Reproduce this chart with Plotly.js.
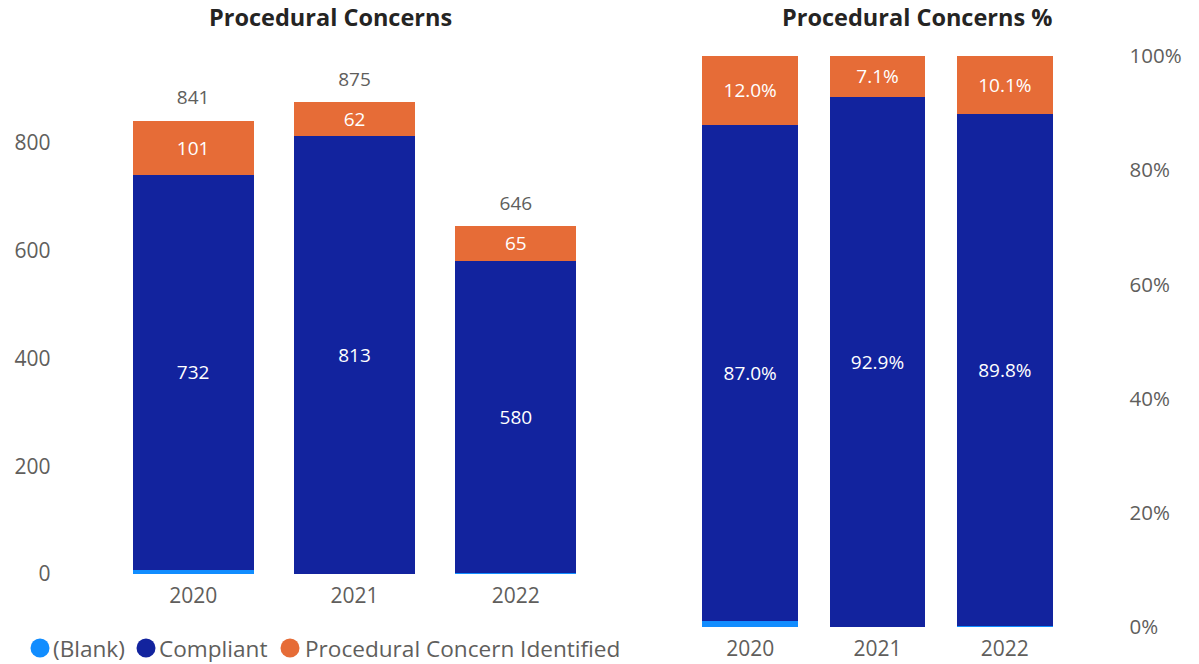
<!DOCTYPE html>
<html>
<head>
<meta charset="utf-8">
<script src="https://cdn.plot.ly/plotly-3.0.1.min.js"></script>
<style>html,body{margin:0;padding:0;background:#fff;} #chart{width:1199px;height:664px;}</style>
</head>
<body>
<div id="chart"></div>
<script>
// Data
const years = ['2020', '2021', '2022'];
const blankCount = [8, 0, 1];
const compliantCount = [732, 813, 580];
const concernCount = [101, 62, 65];
const totalCount = [841, 875, 646];
const blankPct = [1.0, 0, 0.1];
const compliantPct = [87.0, 92.9, 89.8];
const concernPct = [12.0, 7.1, 10.1];
const countTicks = [0, 200, 400, 600, 800];
const pctTicks = [0, 20, 40, 60, 80, 100];
const pctTickText = ['0%', '20%', '40%', '60%', '80%', '100%'];
const legendNames = ['(Blank)', 'Compliant', 'Procedural Concern Identified'];

const C_BLANK = '#118DFF', C_COMP = '#12239E', C_CONC = '#E66C37';
const legendColors = [C_BLANK, C_COMP, C_CONC];
const FONT = 'Open Sans, Noto Sans, sans-serif';
const GREY = '#605E5C';

function barTrace(x, y, color, name, xa, ya, labels) {
  const t = {
    type: 'bar', x: x, y: y, name: name, xaxis: xa, yaxis: ya,
    marker: {color: color, line: {width: 0}},
    showlegend: false, hoverinfo: 'skip'
  };
  if (labels) {
    t.text = labels;
    t.textposition = 'inside';
    t.insidetextanchor = 'middle';
    t.textangle = 0;
    t.textfont = {color: '#ffffff', size: 19, family: FONT};
  } else {
    t.textposition = 'none';
  }
  return t;
}

const data = [
  barTrace(years, blankCount, C_BLANK, legendNames[0], 'x', 'y', null),
  barTrace(years, compliantCount, C_COMP, legendNames[1], 'x', 'y', compliantCount.map(String)),
  barTrace(years, concernCount, C_CONC, legendNames[2], 'x', 'y', concernCount.map(String)),
  {
    type: 'scatter', mode: 'markers+text', x: years, y: totalCount, xaxis: 'x', yaxis: 'y',
    marker: {size: 17, color: 'rgba(0,0,0,0)'},
    text: totalCount.map(String), textposition: 'top center',
    textfont: {family: FONT, size: 19, color: GREY}, showlegend: false, hoverinfo: 'skip', cliponaxis: false
  },
  barTrace(years, blankPct, C_BLANK, legendNames[0], 'x2', 'y2', null),
  barTrace(years, compliantPct, C_COMP, legendNames[1], 'x2', 'y2', compliantPct.map(v => v.toFixed(1) + '%')),
  barTrace(years, concernPct, C_CONC, legendNames[2], 'x2', 'y2', concernPct.map(v => v.toFixed(1) + '%'))
];

const W = 1199, H = 664;
const annotations = [
  {
    xref: 'paper', yref: 'paper', x: 330 / W, y: 1 - 17 / H, xanchor: 'center', yanchor: 'middle',
    text: '<b>Procedural Concerns</b>', showarrow: false,
    font: {family: FONT, size: 23.5, color: '#252423'}
  },
  {
    xref: 'paper', yref: 'paper', x: 917 / W, y: 1 - 17 / H, xanchor: 'center', yanchor: 'middle',
    text: '<b>Procedural Concerns %</b>', showarrow: false,
    font: {family: FONT, size: 23.5, color: '#252423'}
  }
];
// legend (custom, circle markers)
const legendCircleX = [40, 146, 290];
const legendTextX = [51, 157, 303];
const shapes = [];
legendNames.forEach((nm, i) => {
  shapes.push({
    type: 'circle', xref: 'paper', yref: 'paper',
    x0: (legendCircleX[i] - 9.5) / W, x1: (legendCircleX[i] + 9.5) / W,
    y0: 1 - (648 + 9.5) / H, y1: 1 - (648 - 9.5) / H,
    fillcolor: legendColors[i], line: {width: 0}
  });
  annotations.push({
    xref: 'paper', yref: 'paper', x: legendTextX[i] / W, y: 1 - 648 / H, xanchor: 'left', yanchor: 'middle',
    text: nm, showarrow: false, font: {family: FONT, size: 22.6, color: GREY}
  });
});

const layout = {
  width: W, height: H,
  margin: {l: 0, r: 0, t: 0, b: 0},
  paper_bgcolor: '#ffffff', plot_bgcolor: '#ffffff',
  barmode: 'stack', bargap: 0.25,
  showlegend: false,
  font: {family: FONT, color: GREY},
  xaxis: {domain: [112.5 / W, 596.5 / W], anchor: 'y', type: 'category',
    showgrid: false, zeroline: false, showline: false,
    tickfont: {size: 21, color: GREY, family: FONT}, ticklabelstandoff: 7},
  yaxis: {domain: [(H - 574) / H, (H - 89) / H], anchor: 'x', range: [0, 900],
    tickvals: countTicks, showgrid: false, zeroline: false, showline: false,
    tickfont: {size: 21, color: GREY, family: FONT}, ticklabelstandoff: 61},
  xaxis2: {domain: [686.5 / W, 1068.5 / W], anchor: 'y2', type: 'category',
    showgrid: false, zeroline: false, showline: false,
    tickfont: {size: 21, color: GREY, family: FONT}, ticklabelstandoff: 7},
  yaxis2: {domain: [(H - 627) / H, (H - 56) / H], anchor: 'x2', side: 'right', range: [0, 100],
    tickvals: pctTicks, ticktext: pctTickText, showgrid: false, zeroline: false, showline: false,
    tickfont: {size: 20.5, color: GREY, family: FONT}, ticklabelstandoff: 60},
  annotations: annotations,
  shapes: shapes
};

Plotly.newPlot('chart', data, layout, {displayModeBar: false, staticPlot: true});
</script>
</body>
</html>
